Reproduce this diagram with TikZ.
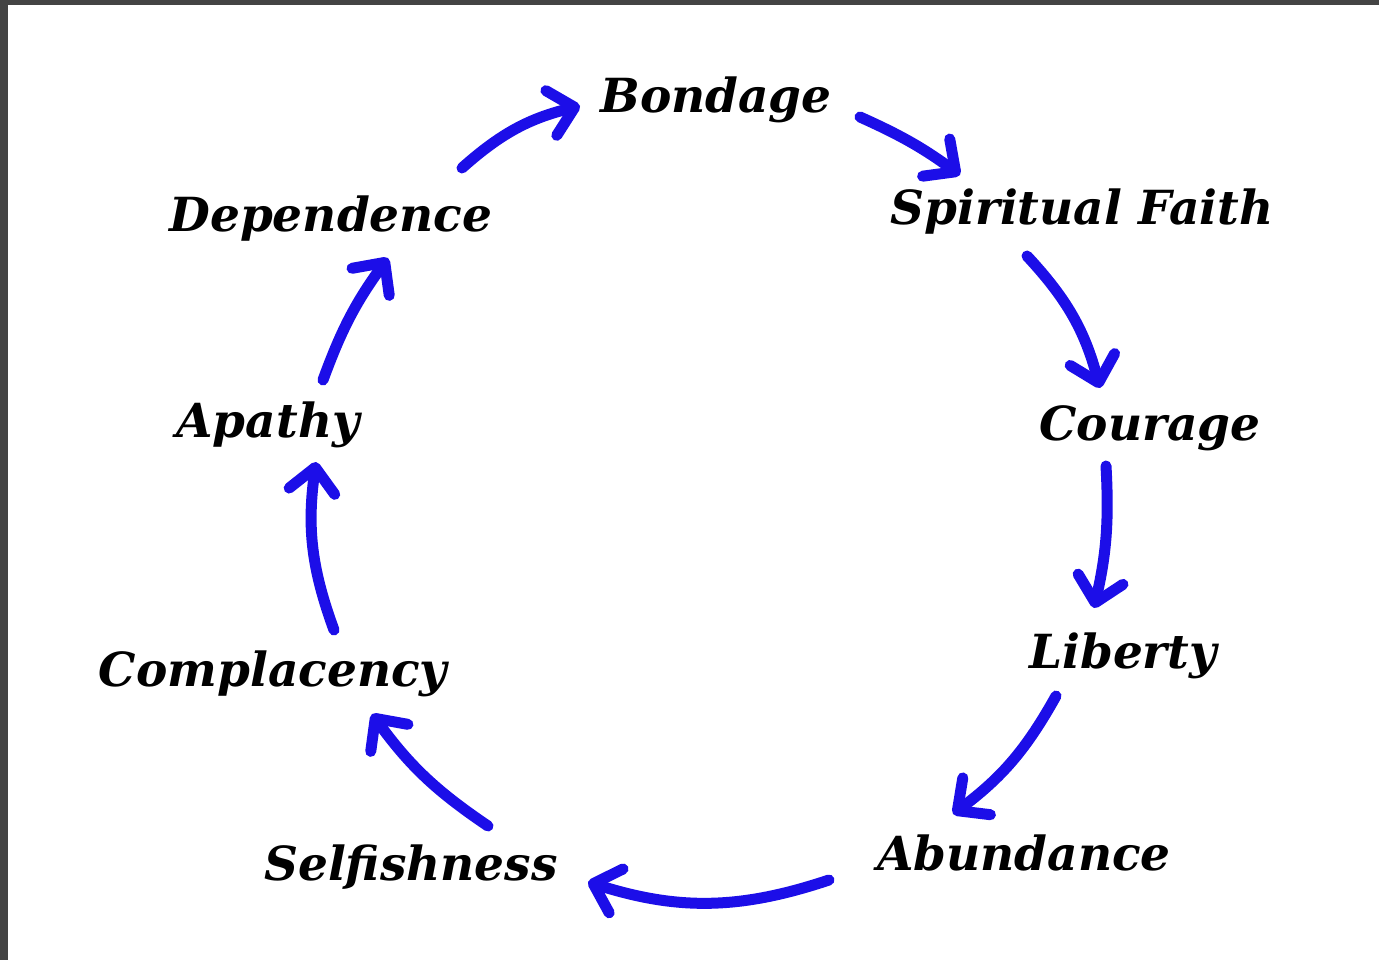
\documentclass[tikz,border=0pt]{standalone}
\usepackage{fontspec}
\setmainfont{DejaVu Serif}
\usetikzlibrary{arrows.meta}
\definecolor{arrowblue}{RGB}{28,14,232}
\definecolor{frame}{RGB}{68,68,68}
\tikzset{
  lbl/.style={anchor=base, inner sep=0pt, font=\fontsize{47}{50}\selectfont\bfseries\itshape},
  cyc/.style={draw=arrowblue, line width=11pt, line cap=round,
    -{Straight Barb[length=24pt,width=46pt,line width=11pt,round]}}
}
\begin{document}
\begin{tikzpicture}[x=1pt,y=-1pt]
\fill[frame] (0,0) rectangle (1379,960);
\fill[white] (8,5) rectangle (1379,960);
\useasboundingbox (0,0) rectangle (1379,960);
\node[lbl] (bond) at (716,113) {Bondage};
\node[lbl] (spir) at (1082,225) {Spiritual Faith};
\node[lbl] (cour) at (1150,440) {Courage};
\node[lbl] (lib) at (1123,668) {Liberty};
\node[lbl] (abun) at (1024,870) {Abundance};
\node[lbl] (self) at (411,880) {Selfishness};
\node[lbl] (comp) at (273,686) {Complacency};
\node[lbl] (apat) at (268,437) {Apathy};
\node[lbl] (dep) at (331,232) {Dependence};
\coordinate (s1) at (462,168); \coordinate (e1) at (580,106);
\coordinate (s2) at (860,117); \coordinate (e2) at (960,175);
\coordinate (s3) at (1027,256); \coordinate (e3) at (1100,388);
\coordinate (s4) at (1106,466); \coordinate (e4) at (1094,608);
\coordinate (s5) at (1056,696); \coordinate (e5) at (953,814);
\coordinate (s6) at (829,880); \coordinate (e6) at (588,882);
\coordinate (s7) at (488,826); \coordinate (e7) at (372,714);
\coordinate (s8) at (334,630); \coordinate (e8) at (316,462);
\coordinate (s9) at (323,380); \coordinate (e9) at (388,258);
\draw[cyc] (s1) to[bend left=14] (e1);
\draw[cyc] (s2) to[bend left=6] (e2);
\draw[cyc] (s3) to[bend left=14] (e3);
\draw[cyc] (s4) to[bend left=8] (e4);
\draw[cyc] (s5) to[bend left=12] (e5);
\draw[cyc] (s6) to[bend left=18] (e6);
\draw[cyc] (s7) to[bend left=10] (e7);
\draw[cyc] (s8) to[bend left=14] (e8);
\draw[cyc] (s9) to[bend left=8] (e9);
\end{tikzpicture}
\end{document}
